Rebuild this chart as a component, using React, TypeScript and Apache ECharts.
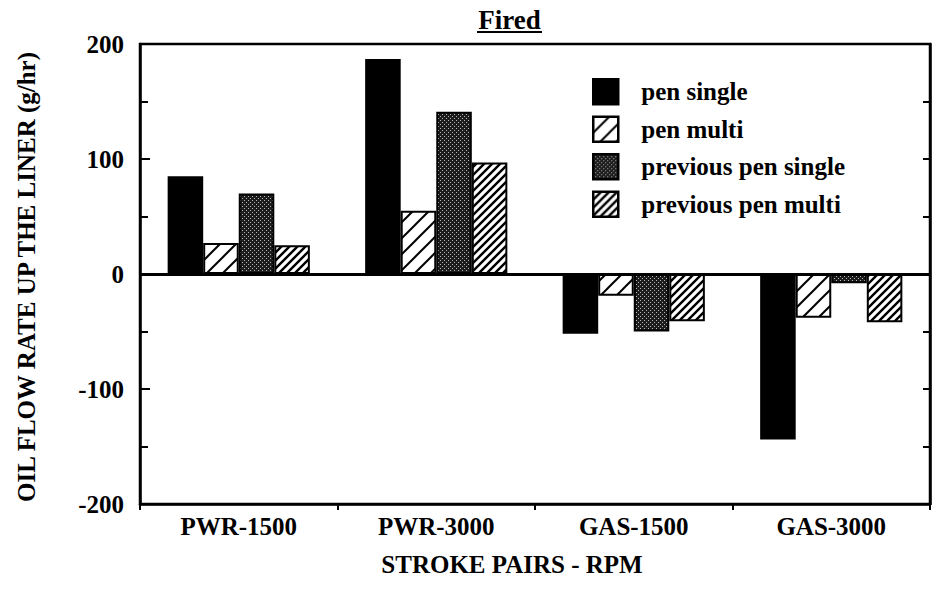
import React, { useEffect, useRef } from 'react';
import * as echarts from 'echarts';

const categories = ['PWR-1500', 'PWR-3000', 'GAS-1500', 'GAS-3000'];
const seriesNames = ['pen single', 'pen multi', 'previous pen single', 'previous pen multi'];
const penSingle = [85, 187, -52, -144];
const penMulti = [27, 55, -19, -38];
const prevPenSingle = [70, 141, -50, -8];
const prevPenMulti = [25, 97, -41, -42];
const yMin = -200;
const yMax = 200;
const yStep = 100;

const FONT = '"Liberation Serif", "Times New Roman", serif';

function hatchPattern(size: number, lw: number) {
  const c = document.createElement('canvas');
  c.width = size;
  c.height = size;
  const ctx = c.getContext('2d')!;
  ctx.fillStyle = '#fff';
  ctx.fillRect(0, 0, size, size);
  ctx.strokeStyle = '#000';
  ctx.lineWidth = lw;
  ctx.beginPath();
  for (const k of [0, 1, 2]) {
    const cc = k * size;
    ctx.moveTo(cc + 1, -1);
    ctx.lineTo(cc - size - 1, size + 1);
  }
  ctx.stroke();
  return { image: c.toDataURL(), repeat: 'repeat', imageWidth: size, imageHeight: size };
}

function dotPattern() {
  const s = 4;
  const c = document.createElement('canvas');
  c.width = s;
  c.height = s;
  const ctx = c.getContext('2d')!;
  ctx.fillStyle = '#1c1c1c';
  ctx.fillRect(0, 0, s, s);
  ctx.fillStyle = '#b8b8b8';
  ctx.fillRect(0, 0, 1, 1);
  ctx.fillRect(2, 2, 1, 1);
  return { image: c.toDataURL(), repeat: 'repeat', imageWidth: s, imageHeight: s };
}

export default function App() {
  const ref = useRef<HTMLDivElement>(null);
  useEffect(() => {
    document.body.style.margin = '0';
    if (!ref.current) return;
    const chart = echarts.init(ref.current, null, { renderer: 'svg' });
    const sparse = hatchPattern(16, 2);
    const dense = hatchPattern(8, 2.4);
    const dots = dotPattern();
    const fills: any[] = ['#000', sparse, dots, dense];
    const datas = [penSingle, penMulti, prevPenSingle, prevPenMulti];

    const series: any[] = seriesNames.map((name, i) => ({
      name,
      type: 'bar',
      data: datas[i],
      barGap: '0%',
      barCategoryGap: '28%',
      itemStyle: { color: fills[i], borderColor: '#000', borderWidth: 2 },
      emphasis: { disabled: true },
    }));
    series[0].markLine = {
      silent: true,
      symbol: ['none', 'none'],
      label: { show: false },
      lineStyle: { color: '#000', width: 3, type: 'solid' },
      data: [{ yAxis: 0 }],
    };

    const labelStyle = { color: '#000', fontSize: 25, fontWeight: 'bold', fontFamily: FONT };

    chart.setOption({
      animation: false,
      backgroundColor: '#fff',
      textStyle: { fontFamily: FONT, color: '#000' },
      grid: {
        left: 140,
        right: 2,
        top: 44,
        bottom: 87,
        show: true,
        borderColor: '#000',
        borderWidth: 2.5,
        backgroundColor: 'transparent',
      },
      legend: {
        orient: 'vertical',
        left: 592,
        top: 78,
        padding: 0,
        itemWidth: 25,
        itemHeight: 25,
        itemGap: 10,
        icon: 'rect',
        data: seriesNames,
        itemStyle: { borderColor: '#000', borderWidth: 2.5 },
        textStyle: { ...labelStyle, padding: [0, 0, 0, 18] },
      },
      xAxis: {
        type: 'category',
        data: categories,
        axisLine: { onZero: false, lineStyle: { color: '#000', width: 2.5 } },
        axisTick: { show: true, inside: false, length: 6, lineStyle: { color: '#000', width: 2 } },
        axisLabel: { ...labelStyle, margin: 10 },
        splitLine: { show: false },
      },
      yAxis: [
        {
          type: 'value',
          min: yMin,
          max: yMax,
          interval: yStep,
          position: 'left',
          axisLine: { show: true, lineStyle: { color: '#000', width: 2.5 } },
          axisTick: { show: true, inside: true, length: 10, lineStyle: { color: '#000', width: 2 } },
          minorTick: { show: true, splitNumber: 2, length: 8, lineStyle: { color: '#000', width: 2 } },
          axisLabel: { ...labelStyle, margin: 16 },
          splitLine: { show: false },
        },
        {
          type: 'value',
          min: yMin,
          max: yMax,
          interval: yStep,
          position: 'right',
          axisLine: { show: true, lineStyle: { color: '#000', width: 2.5 } },
          axisTick: { show: true, inside: true, length: 7, lineStyle: { color: '#000', width: 2 } },
          minorTick: { show: true, splitNumber: 2, length: 7, lineStyle: { color: '#000', width: 2 } },
          axisLabel: { show: false },
          splitLine: { show: false },
        },
      ],
      series,
      graphic: [
        {
          type: 'text',
          x: 509.5,
          y: 20,
          style: { text: 'Fired', fill: '#000', fontSize: 27, fontWeight: 'bold', fontFamily: FONT, align: 'center', verticalAlign: 'middle' },
        },
        {
          type: 'line',
          shape: { x1: 477, y1: 32, x2: 542, y2: 32 },
          style: { stroke: '#000', lineWidth: 2 },
        },
        {
          type: 'text',
          x: 512,
          y: 564,
          style: { text: 'STROKE PAIRS - RPM', fill: '#000', fontSize: 25, fontWeight: 'bold', fontFamily: FONT, align: 'center', verticalAlign: 'middle' },
        },
        {
          type: 'text',
          x: 26,
          y: 277,
          rotation: Math.PI / 2,
          style: { text: 'OIL FLOW RATE UP THE LINER (g/hr)', fill: '#000', fontSize: 25, fontWeight: 'bold', fontFamily: FONT, align: 'center', verticalAlign: 'middle' },
        },
      ],
    });
    return () => chart.dispose();
  }, []);
  return <div ref={ref} style={{ width: 932, height: 591 }} />;
}
